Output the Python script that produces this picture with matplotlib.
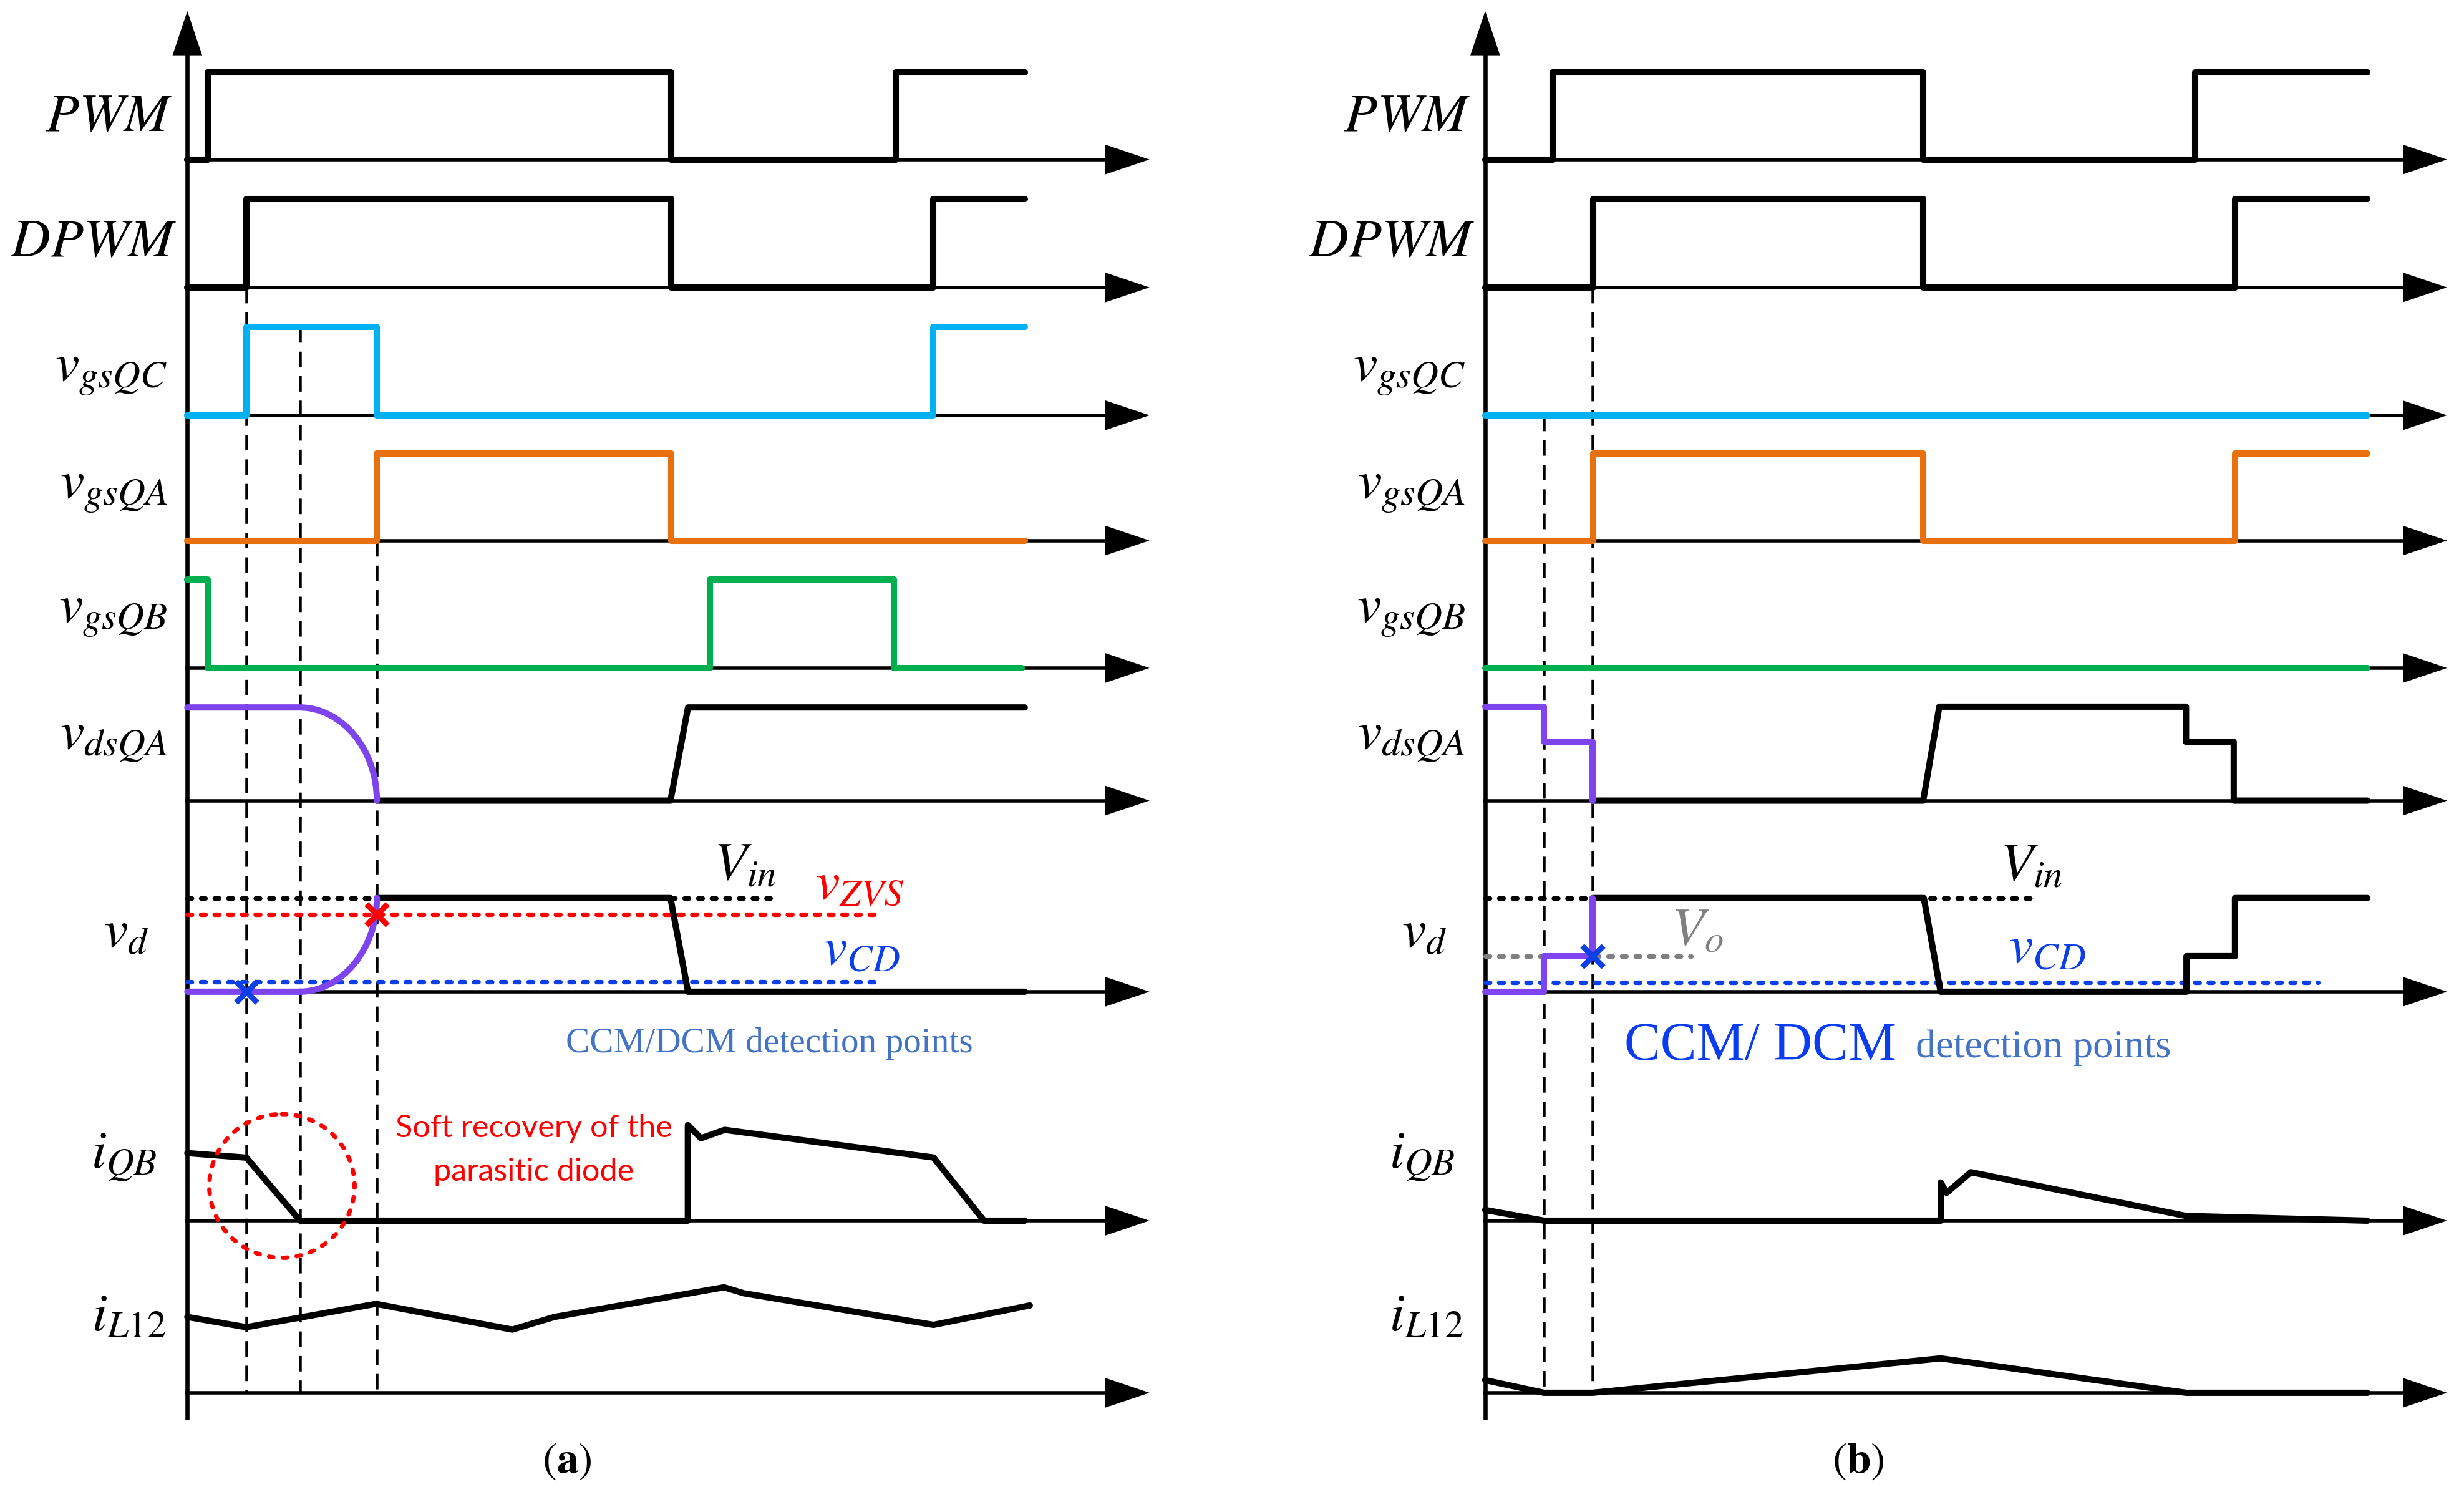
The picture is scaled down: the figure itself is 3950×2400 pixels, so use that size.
import matplotlib
matplotlib.use("Agg")
import matplotlib.pyplot as plt
from matplotlib.path import Path
from matplotlib.patches import PathPatch, Ellipse, Polygon

# ---- data (drawing units, x = time position, h = height above row baseline) ----
labels = [r"$PWM$", r"$DPWM$", r"$v_{gsQC}$", r"$v_{gsQA}$", r"$v_{gsQB}$",
          r"$v_{dsQA}$", r"$v_d$", r"$i_{QB}$", r"$i_{L12}$"]
label_y = [74.6, 154, 236, 310.5, 389, 468.5, 591.5, 733, 834.5]
label_dx = [-9.6, -6.6, -12.6, -12.6, -12.6, -12.6, -24.4, -19.2, -13.6]
baselines = [101, 182, 263, 342.3, 423, 507, 628, 773, 882]

# panel (a)
origin_a = 118.6
tip_a = 727.8
pwm_a_x = [118.6, 131.5, 131.5, 425, 425, 567, 567, 648.8]
pwm_a_h = [0, 0, 55, 55, 0, 0, 55, 55]
dpwm_a_x = [118.6, 156, 156, 425, 425, 591, 591, 648.8]
dpwm_a_h = [0, 0, 56, 56, 0, 0, 56, 56]
qc_a_x = [118.6, 156, 156, 238.6, 238.6, 591, 591, 648.8]
qc_a_h = [0, 0, 56, 56, 0, 0, 56, 56]
qa_a_x = [118.6, 238.6, 238.6, 425, 425, 648.8]
qa_a_h = [0, 0, 55, 55, 0, 0]
qb_a_x = [118.6, 131.5, 131.5, 449.5, 449.5, 566, 566, 646.8]
qb_a_h = [56, 56, 0, 0, 56, 56, 0, 0]
vds_a_curve = [(118.6, 59), (189.5, 59), (216.5, 59), (238.6, 32.5), (238.6, 0)]
vds_a_x = [238.6, 424.5, 435.6, 648.8]
vds_a_h = [0, 0, 59, 59]
vd_a_curve = [(118.6, 0), (189.5, 0), (216.5, 0), (238.6, 27), (238.6, 59.3)]
vd_a_x = [238.6, 424.5, 435.6, 648.8]
vd_a_h = [59.3, 59.3, 0, 0]
iqb_a_x = [118.6, 156, 190, 435.5, 435.5, 443.8, 458.8, 591, 623, 648.8]
iqb_a_h = [42.8, 39.9, 0, 0, 60.5, 52.2, 57.5, 40, 0, 0]
il_a_x = [118.6, 156, 238, 324.3, 351, 458.4, 471, 591, 652]
il_a_h = [48, 41.5, 56.3, 40, 48, 66.8, 63, 43, 55.3]
vin_level, vzvs_level, vcd_level_a = 59.3, 49, 6.3
vin_dots_a = [(118.6, 238.6), (424.5, 487.7)]
vzvs_dots_a = (118.6, 556)
vcd_dots_a = (118.6, 556)
dash_a = [(156, 182), (190, 207), (238.6, 342.3)]  # x, top y

# panel (b)
origin_b = 940.3
tip_b = 1549.3
pwm_b_x = [940.3, 983, 983, 1217.6, 1217.6, 1389.8, 1389.8, 1498.8]
pwm_b_h = [0, 0, 55, 55, 0, 0, 55, 55]
dpwm_b_x = [940.3, 1008.8, 1008.8, 1217.6, 1217.6, 1415, 1415, 1498.8]
dpwm_b_h = [0, 0, 56, 56, 0, 0, 56, 56]
qc_b_x = [940.3, 1498.8]
qc_b_h = [0, 0]
qa_b_x = [940.3, 1008.8, 1008.8, 1217.6, 1217.6, 1415, 1415, 1498.8]
qa_b_h = [0, 0, 55, 55, 0, 0, 55, 55]
qb_b_x = [940.3, 1498.8]
qb_b_h = [0, 0]
vds_b_px = [940.3, 977.5, 977.5, 1008.3, 1008.3]
vds_b_ph = [59.5, 59.5, 37.2, 37.2, 0]
vds_b_x = [1008.3, 1217.6, 1227.8, 1384, 1384, 1414.2, 1414.2, 1498.8]
vds_b_h = [0, 0, 59.5, 59.5, 37.2, 37.2, 0, 0]
vd_b_px = [940.3, 977.5, 977.5, 1008.3, 1008.3]
vd_b_ph = [0, 0, 22.5, 22.5, 59.3]
vd_b_x = [1008.3, 1218, 1228.6, 1384.3, 1384.3, 1415, 1415, 1498.8]
vd_b_h = [59.3, 59.3, 0, 0, 22.5, 22.5, 59.3, 59.3]
iqb_b_x = [940.3, 977.5, 1228.7, 1228.7, 1232.4, 1247.8, 1384, 1498.8]
iqb_b_h = [6.8, 0, 0, 24.2, 17.6, 30.7, 3, 0]
il_b_x = [940.3, 977.5, 1008.3, 1228.7, 1384, 1498.8]
il_b_h = [8, 0, 0, 21.8, 0, 0]
vo_level, vcd_level_b = 22.5, 6
vin_dots_b = [(940.3, 1008.3), (1222, 1286)]
vo_dots_b = (940.3, 1070.6)
vcd_dots_b = (940.3, 1467.7)
dash_b = [(977.5, 263), (1008.3, 182)]

# ---- styles ----
BLACK = "black"
CYAN = "#00B0F0"
ORANGE = "#E8700F"
GREEN = "#00B050"
PURPLE = "#7E44EE"
RED = "#FF0000"
BLUE = "#0D3FE8"
STEEL = "#4472C4"
GREY = "#808080"
LW = 2.9
AX_LW = 1.6
ARROW_L = 28
ARROW_W = 9.4
BOTTOM = 897.8
TOP = 7

matplotlib.rcParams["mathtext.fontset"] = "stix"
matplotlib.rcParams["font.family"] = ["STIXGeneral", "DejaVu Serif"]

fig = plt.figure(figsize=(15.8, 9.6), dpi=250)
ax = fig.add_axes([0, 0, 1, 1])
ax.set_xlim(0, 1560)
ax.set_ylim(948, 0)
ax.axis("off")


def trace(xs, hs, row, color, lw=LW, z=4):
    base = baselines[row]
    ax.plot(xs, [base - h for h in hs], color=color, lw=lw, solid_joinstyle="round",
            solid_capstyle="round", zorder=z)


def curve(points, row, color):
    base = baselines[row]
    verts = [(x, base - h) for x, h in points]
    codes = [Path.MOVETO, Path.LINETO, Path.CURVE4, Path.CURVE4, Path.CURVE4]
    ax.add_patch(PathPatch(Path(verts, codes), fill=False, edgecolor=color, lw=LW,
                           capstyle="round", joinstyle="round", zorder=5))


def dots(span, row, level, color):
    base = baselines[row]
    ax.plot(span, [base - level] * 2, color=color, lw=2.1, linestyle=(0, (1.0, 2.0)),
            dash_capstyle="round", zorder=3)


def axes_frame(x0, xt):
    for base in baselines:
        ax.plot([x0, xt - ARROW_L + 2], [base, base], color=BLACK, lw=AX_LW, zorder=2)
        ax.add_patch(Polygon([[xt, base], [xt - ARROW_L, base - ARROW_W], [xt - ARROW_L, base + ARROW_W]],
                             closed=True, facecolor=BLACK, edgecolor="none", zorder=2))
    ax.plot([x0, x0], [BOTTOM, TOP + ARROW_L - 2], color=BLACK, lw=1.9, zorder=2)
    ax.add_patch(Polygon([[x0, TOP], [x0 - ARROW_W, TOP + ARROW_L], [x0 + ARROW_W, TOP + ARROW_L]],
                         closed=True, facecolor=BLACK, edgecolor="none", zorder=2))
    for lab, ly, dx in zip(labels, label_y, label_dx):
        ax.text(x0 + dx, ly, lab, fontsize=25, ha="right", va="center", color=BLACK)


def dashed(spec):
    for x, ytop in spec:
        ax.plot([x, x], [ytop, baselines[-1]], color=BLACK, lw=1.3, linestyle=(0, (5.5, 3.2)), zorder=3)


# ---- panel (a) ----
axes_frame(origin_a, tip_a)
dashed(dash_a)
trace(pwm_a_x, pwm_a_h, 0, BLACK)
trace(dpwm_a_x, dpwm_a_h, 1, BLACK)
trace(qc_a_x, qc_a_h, 2, CYAN)
trace(qa_a_x, qa_a_h, 3, ORANGE)
trace(qb_a_x, qb_a_h, 4, GREEN)
curve(vds_a_curve, 5, PURPLE)
trace(vds_a_x, vds_a_h, 5, BLACK)
for span in vin_dots_a:
    dots(span, 6, vin_level, BLACK)
dots(vzvs_dots_a, 6, vzvs_level, RED)
dots(vcd_dots_a, 6, vcd_level_a, BLUE)
curve(vd_a_curve, 6, PURPLE)
trace(vd_a_x, vd_a_h, 6, BLACK)
ax.plot([156], [baselines[6]], marker="x", ms=10, mew=2.6, color=BLUE, zorder=6)
ax.plot([238.6], [baselines[6] - vzvs_level], marker="x", ms=10, mew=2.6, color=RED, zorder=6)
trace(iqb_a_x, iqb_a_h, 7, BLACK)
trace(il_a_x, il_a_h, 8, BLACK)
ax.add_patch(Ellipse((178.5, 751), 92, 91, fill=False, edgecolor=RED, lw=2.0,
                     linestyle=(0, (1.0, 2.2)), capstyle="round", zorder=6))

ax.text(452, 557, r"$V_{in}$", fontsize=25, ha="left", va="baseline", color=BLACK)
ax.text(516, 569.4, r"$v_{ZVS}$", fontsize=25, ha="left", va="baseline", color=RED)
ax.text(521, 610.8, r"$v_{CD}$", fontsize=25, ha="left", va="baseline", color=BLUE)
ax.text(487, 666.4, "CCM/DCM detection points", fontsize=16.5, ha="center", va="baseline",
        color=STEEL, family="Liberation Serif")
ax.text(338, 720, "Soft recovery of the", fontsize=14.5, ha="center", va="baseline",
        color=RED, family="Lato")
ax.text(338, 747.8, "parasitic diode", fontsize=14.5, ha="center", va="baseline",
        color=RED, family="Lato")
ax.text(359, 926, r"$(\mathbf{a})$", fontsize=20, ha="center", va="center", color=BLACK)

# ---- panel (b) ----
axes_frame(origin_b, tip_b)
dashed(dash_b)
trace(pwm_b_x, pwm_b_h, 0, BLACK)
trace(dpwm_b_x, dpwm_b_h, 1, BLACK)
trace(qc_b_x, qc_b_h, 2, CYAN)
trace(qa_b_x, qa_b_h, 3, ORANGE)
trace(qb_b_x, qb_b_h, 4, GREEN)
trace(vds_b_px, vds_b_ph, 5, PURPLE, z=5)
trace(vds_b_x, vds_b_h, 5, BLACK)
for span in vin_dots_b:
    dots(span, 6, vin_level, BLACK)
dots(vo_dots_b, 6, vo_level, GREY)
dots(vcd_dots_b, 6, vcd_level_b, BLUE)
trace(vd_b_px, vd_b_ph, 6, PURPLE, z=5)
trace(vd_b_x, vd_b_h, 6, BLACK)
ax.plot([1008.3], [baselines[6] - vo_level], marker="x", ms=10, mew=2.6, color=BLUE, zorder=6)
trace(iqb_b_x, iqb_b_h, 7, BLACK)
trace(il_b_x, il_b_h, 8, BLACK)

ax.text(1266, 557.5, r"$V_{in}$", fontsize=25, ha="left", va="baseline", color=BLACK)
ax.text(1058, 598.3, r"$V_o$", fontsize=25, ha="left", va="baseline", color=GREY)
ax.text(1271.6, 609.5, r"$v_{CD}$", fontsize=25, ha="left", va="baseline", color=BLUE)
ax.text(1028.3, 671, "CCM/ DCM", fontsize=25, ha="left", va="baseline",
        color="#0A3CF0", family="Liberation Serif")
ax.text(1374.5, 669.4, "detection points", fontsize=18.5, ha="right", va="baseline",
        color=STEEL, family="Liberation Serif")
ax.text(1176.6, 926, r"$(\mathbf{b})$", fontsize=20, ha="center", va="center", color=BLACK)

fig.savefig("out.png", dpi=250, facecolor="white")
